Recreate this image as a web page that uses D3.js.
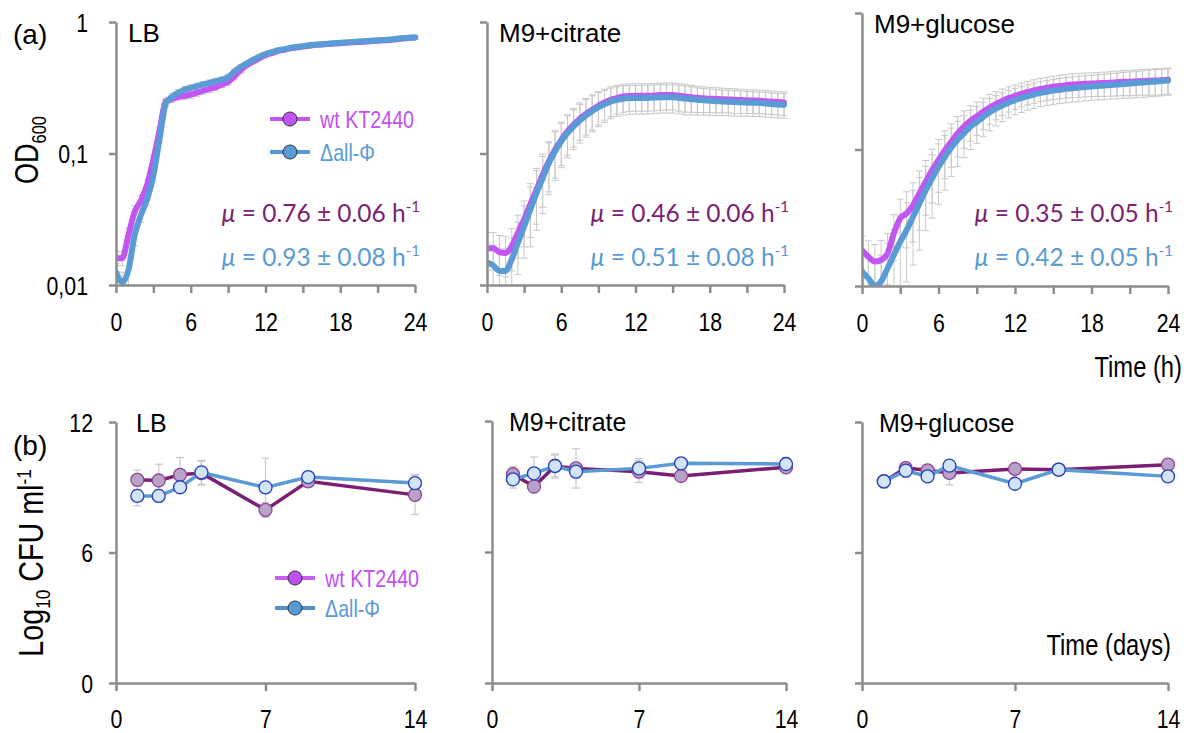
<!DOCTYPE html>
<html>
<head>
<meta charset="utf-8">
<script src="https://cdn.jsdelivr.net/npm/d3@7"></script>
<style>
  body { margin: 0; background: #fff; }
  svg { display: block; }
</style>
</head>
<body>
<div id="chart"></div>
<script>
// ---- data (a): OD600 growth curves, sampled every 0.5 h ----
const hours = [0, 0.5, 1, 1.5, 2, 2.5, 3, 3.5, 4, 4.5, 5, 5.5, 6, 6.5, 7, 7.5, 8, 8.5, 9, 9.5, 10, 10.5, 11, 11.5, 12,
  12.5, 13, 13.5, 14, 14.5, 15, 15.5, 16, 16.5, 17, 17.5, 18, 18.5, 19, 19.5, 20, 20.5, 21, 21.5, 22, 22.5, 23, 23.5, 24];

const lbWt = [0.016, 0.016, 0.024, 0.036, 0.044, 0.058, 0.09, 0.15, 0.25, 0.26, 0.27, 0.275, 0.28, 0.29, 0.30, 0.31, 0.32,
  0.335, 0.35, 0.385, 0.43, 0.47, 0.50, 0.53, 0.56, 0.58, 0.60, 0.615, 0.63, 0.64, 0.65, 0.66, 0.67, 0.675, 0.68, 0.685,
  0.69, 0.695, 0.70, 0.705, 0.71, 0.715, 0.72, 0.725, 0.73, 0.74, 0.75, 0.755, 0.76];
const lbDel = [0.0125, 0.0105, 0.013, 0.024, 0.034, 0.045, 0.068, 0.13, 0.24, 0.27, 0.29, 0.305, 0.315, 0.325, 0.335,
  0.345, 0.355, 0.365, 0.38, 0.42, 0.455, 0.485, 0.515, 0.545, 0.57, 0.59, 0.61, 0.62, 0.635, 0.645, 0.655, 0.665, 0.672,
  0.678, 0.684, 0.69, 0.695, 0.70, 0.705, 0.71, 0.715, 0.72, 0.725, 0.73, 0.735, 0.745, 0.752, 0.758, 0.764];
const lbSd = [0.002, 0.002, 0.003, 0.004, 0.004, 0.005, 0.006, 0.008, 0.012, 0.015, 0.016, 0.017, 0.018, 0.018, 0.018,
  0.018, 0.018, 0.018, 0.018, 0.018, 0.017, 0.016, 0.015, 0.014, 0.014, 0.014, 0.014, 0.014, 0.014, 0.014, 0.014, 0.014,
  0.014, 0.014, 0.014, 0.014, 0.014, 0.014, 0.014, 0.014, 0.014, 0.014, 0.014, 0.014, 0.014, 0.014, 0.014, 0.014, 0.014];

const citWt = [0.019, 0.019, 0.0178, 0.0175, 0.0198, 0.025, 0.0315, 0.041, 0.053, 0.069, 0.087, 0.107, 0.127, 0.147,
  0.166, 0.184, 0.20, 0.215, 0.23, 0.244, 0.256, 0.264, 0.271, 0.274, 0.275, 0.275, 0.275, 0.276, 0.278, 0.279, 0.279,
  0.275, 0.271, 0.268, 0.265, 0.263, 0.261, 0.26, 0.259, 0.258, 0.256, 0.255, 0.254, 0.253, 0.252, 0.25, 0.248, 0.246, 0.244];
const citDel = [0.0148, 0.0141, 0.0128, 0.0128, 0.0157, 0.021, 0.028, 0.0375, 0.050, 0.065, 0.0845, 0.104, 0.124, 0.143,
  0.161, 0.178, 0.195, 0.21, 0.225, 0.237, 0.249, 0.256, 0.261, 0.264, 0.264, 0.264, 0.265, 0.266, 0.268, 0.268, 0.268,
  0.265, 0.262, 0.259, 0.256, 0.254, 0.252, 0.25, 0.249, 0.248, 0.246, 0.245, 0.244, 0.243, 0.242, 0.24, 0.238, 0.236, 0.235];
const citSd = [0.006, 0.006, 0.006, 0.006, 0.007, 0.009, 0.012, 0.018, 0.024, 0.03, 0.036, 0.042, 0.046, 0.05, 0.054,
  0.058, 0.062, 0.064, 0.065, 0.065, 0.065, 0.065, 0.065, 0.065, 0.065, 0.065, 0.065, 0.065, 0.065, 0.065, 0.065, 0.065,
  0.065, 0.062, 0.06, 0.058, 0.057, 0.056, 0.055, 0.054, 0.054, 0.053, 0.052, 0.052, 0.051, 0.051, 0.05, 0.05, 0.05];

const gluWt = [0.0183, 0.0164, 0.0151, 0.0155, 0.0173, 0.0243, 0.0313, 0.034, 0.039, 0.0476, 0.058, 0.0706, 0.0836,
  0.099, 0.114, 0.131, 0.147, 0.162, 0.175, 0.189, 0.203, 0.215, 0.227, 0.238, 0.247, 0.256, 0.264, 0.271, 0.278, 0.283,
  0.288, 0.292, 0.296, 0.299, 0.301, 0.303, 0.304, 0.306, 0.307, 0.309, 0.311, 0.313, 0.314, 0.316, 0.318, 0.319, 0.32,
  0.322, 0.325];
const gluDel = [0.0127, 0.0114, 0.0100, 0.0108, 0.0135, 0.0169, 0.0211, 0.0257, 0.0322, 0.0403, 0.0504, 0.0614, 0.0747,
  0.0884, 0.1035, 0.118, 0.132, 0.147, 0.159, 0.173, 0.187, 0.199, 0.21, 0.22, 0.23, 0.238, 0.246, 0.253, 0.26, 0.265,
  0.27, 0.274, 0.278, 0.281, 0.284, 0.287, 0.289, 0.292, 0.294, 0.297, 0.299, 0.302, 0.304, 0.307, 0.309, 0.312, 0.315,
  0.317, 0.32];
const gluSd = [0.005, 0.005, 0.005, 0.006, 0.007, 0.009, 0.012, 0.015, 0.018, 0.022, 0.025, 0.03, 0.035, 0.038, 0.04,
  0.043, 0.045, 0.047, 0.048, 0.049, 0.05, 0.05, 0.05, 0.05, 0.05, 0.051, 0.052, 0.053, 0.054, 0.055, 0.056, 0.057, 0.058,
  0.059, 0.06, 0.06, 0.06, 0.061, 0.062, 0.063, 0.064, 0.065, 0.066, 0.067, 0.068, 0.069, 0.07, 0.07, 0.07];

const muWt = ["0.76 ± 0.06", "0.46 ± 0.06", "0.35 ± 0.05"];
const muDel = ["0.93 ± 0.08", "0.51 ± 0.08", "0.42 ± 0.05"];

// ---- data (b): viable counts, log10 CFU/ml ----
const days = [1, 2, 3, 4, 7, 9, 14];
const cfuLbWt = [9.34, 9.31, 9.57, 9.65, 7.96, 9.27, 8.65];
const cfuLbWtErr = [0.45, 0.75, 0.8, 0.55, 0.35, 0.2, 0.9];
const cfuLbDel = [8.6, 8.6, 9.0, 9.68, 8.99, 9.47, 9.19];
const cfuLbDelErr = [0.45, 0.3, 0.3, 0.55, 1.35, 0.2, 0.4];
const cfuCitWt = [9.56, 9.0, 9.94, 9.83, 9.68, 9.48, 9.88];
const cfuCitWtErr = [0.35, 0.3, 0.5, 0.9, 0.5, 0.2, 0.3];
const cfuCitDel = [9.33, 9.6, 9.94, 9.68, 9.83, 10.06, 10.03];
const cfuCitDelErr = [0.4, 0.75, 0.55, 0.3, 0.45, 0.2, 0.3];
const cfuGluWt = [9.27, 9.88, 9.78, 9.66, 9.84, 9.81, 10.04];
const cfuGluWtErr = [0.3, 0.25, 0.2, 0.55, 0.15, 0.15, 0.2];
const cfuGluDel = [9.27, 9.76, 9.5, 9.99, 9.16, 9.81, 9.5];
const cfuGluDelErr = [0.3, 0.3, 0.2, 0.2, 0.2, 0.15, 0.2];

const media = ["LB", "M9+citrate", "M9+glucose"];
const odTicks = [0.01, 0.1, 1];
const odTickLabels = ["0,01", "0,1", "1"];
const hourTicks = [0, 3, 6, 9, 12, 15, 18, 21, 24];
const dayTicks = [0, 7, 14];
const cfuTicks = [0, 6, 12];
const strains = ["wt KT2440", "\u0394all-\u03A6"];

const growth = [
  { wt: lbWt, del: lbDel, sd: lbSd },
  { wt: citWt, del: citDel, sd: citSd },
  { wt: gluWt, del: gluDel, sd: gluSd }
];
const counts = [
  { wt: cfuLbWt, wtErr: cfuLbWtErr, del: cfuLbDel, delErr: cfuLbDelErr },
  { wt: cfuCitWt, wtErr: cfuCitWtErr, del: cfuCitDel, delErr: cfuCitDelErr },
  { wt: cfuGluWt, wtErr: cfuGluWtErr, del: cfuGluDel, delErr: cfuGluDelErr }
];

// ---- layout ----
// no narrow face installed: squeeze Liberation Sans horizontally instead
const SQ = 0.82;
const sans = "'Liberation Sans', Arial, sans-serif";
const calib = "Lato, 'Open Sans', sans-serif";
const axisColor = "#8c8c8c";
const wtBright = "#c156f2", delBlue = "#5b9bd5", wtDark = "#7a1f72";

const topPanels = [
  { x0: 116, x1: 415, yTop: 22, yBot: 285 },
  { x0: 487, x1: 784, yTop: 22, yBot: 285 },
  { x0: 862, x1: 1168, yTop: 13, yBot: 286 }
];
const botPanels = [
  { x0: 116, x1: 415, yTop: 422, yBot: 683 },
  { x0: 492, x1: 786, yTop: 421, yBot: 683 },
  { x0: 862, x1: 1168, yTop: 422, yBot: 683 }
];

const svg = d3.select("#chart").append("svg")
  .attr("width", 1191).attr("height", 733);

function styleAxis(g, fontSize) {
  g.select(".domain").attr("stroke", axisColor).attr("stroke-width", 2.5);
  g.selectAll(".tick line").attr("stroke", axisColor).attr("stroke-width", 2.5);
  g.selectAll(".tick text").attr("fill", "#000")
    .style("font-family", sans).style("font-size", fontSize + "px")
    .each(function () {
      const t = d3.select(this);
      t.attr("x", (+t.attr("x") || 0) / SQ).attr("transform", `scale(${SQ},1)`);
    });
}

function narrowText(x, y, size, anchor, str) {
  return svg.append("text").attr("transform", `translate(${x},${y}) scale(${SQ},1)`)
    .attr("text-anchor", anchor).style("font-family", sans).style("font-size", size + "px").text(str);
}

function muLabel(x, y, color, value) {
  const t = svg.append("text").attr("x", x).attr("y", y).attr("text-anchor", "end")
    .attr("fill", color).style("font-family", calib).style("font-size", "24.5px");
  t.append("tspan").style("font-style", "italic").text("\u03BC");
  t.append("tspan").text(" = " + value + " h");
  t.append("tspan").attr("dy", -10).style("font-size", "15px").text("-1");
}

function drawGrowth(p, i) {
  const x = d3.scaleLinear().domain([0, 24]).range([p.x0, p.x1]);
  const y = d3.scaleLog().domain([0.01, 1]).range([p.yBot, p.yTop]);
  const d = growth[i];

  const clipId = "clipTop" + i;
  svg.append("clipPath").attr("id", clipId).append("rect")
    .attr("x", p.x0).attr("y", p.yTop - 8)
    .attr("width", p.x1 - p.x0 + 10).attr("height", p.yBot - p.yTop + 8);
  const plot = svg.append("g").attr("clip-path", `url(#${clipId})`);

  // error bars (gray, behind the curves)
  [d.wt, d.del].forEach(vals => {
    const rows = hours.map((t, k) => ({ t: t, hi: vals[k] + d.sd[k], lo: Math.max(vals[k] - d.sd[k], 0.005) }));
    const eb = plot.append("g").attr("stroke", "#c8c8c8").attr("stroke-width", 1);
    eb.selectAll(".v").data(rows).join("line")
      .attr("x1", r => x(r.t)).attr("x2", r => x(r.t))
      .attr("y1", r => y(r.lo)).attr("y2", r => y(r.hi));
    eb.selectAll(".ch").data(rows).join("line")
      .attr("x1", r => x(r.t) - 3.5).attr("x2", r => x(r.t) + 3.5)
      .attr("y1", r => y(r.hi)).attr("y2", r => y(r.hi));
    eb.selectAll(".cl").data(rows).join("line")
      .attr("x1", r => x(r.t) - 3.5).attr("x2", r => x(r.t) + 3.5)
      .attr("y1", r => y(r.lo)).attr("y2", r => y(r.lo));
  });

  const line = d3.line().x((v, k) => x(hours[k])).y(v => y(v)).curve(d3.curveMonotoneX);
  plot.append("path").datum(d.wt).attr("d", line)
    .attr("fill", "none").attr("stroke", wtBright).attr("stroke-width", 6).attr("stroke-linecap", "round");
  plot.append("path").datum(d.del).attr("d", line)
    .attr("fill", "none").attr("stroke", delBlue).attr("stroke-width", 6).attr("stroke-linecap", "round");

  const gx = svg.append("g").attr("transform", `translate(0,${p.yBot})`)
    .call(d3.axisBottom(x).tickValues(hourTicks).tickSize(8).tickSizeOuter(0).tickPadding(20)
      .tickFormat(v => v % 6 === 0 ? v : ""));
  styleAxis(gx, 26);
  const gy = svg.append("g").attr("transform", `translate(${p.x0},0)`)
    .call(d3.axisLeft(y).tickValues(odTicks).tickSize(7).tickSizeOuter(0).tickPadding(21)
      .tickFormat((v, k) => i === 0 ? odTickLabels[k] : ""));
  styleAxis(gy, 26);
  gy.selectAll(".tick text").attr("dy", "0.36em");

  svg.append("text").attr("x", p.x0 + 12).attr("y", p.yTop + 20)
    .style("font-family", sans).style("font-size", "26px").text(media[i]);

  muLabel(p.x1 + 5, 222, "#7b2272", muWt[i]);
  muLabel(p.x1 + 5, 266, delBlue, muDel[i]);
}

function drawCounts(p, i) {
  const x = d3.scaleLinear().domain([0, 14]).range([p.x0, p.x1]);
  const y = d3.scaleLinear().domain([0, 12]).range([p.yBot, p.yTop]);
  const d = counts[i];

  const series = [
    { vals: d.wt, err: d.wtErr, line: wtDark, fill: "#b9a2c8", stroke: "#93439a" },
    { vals: d.del, err: d.delErr, line: delBlue, fill: "#d3e4f8", stroke: "#1f3fc0" }
  ];
  series.forEach(s => {
    const eb = svg.append("g").attr("stroke", "#c8c8c8").attr("stroke-width", 1.2);
    eb.selectAll(".v").data(days).join("line")
      .attr("x1", v => x(v)).attr("x2", v => x(v))
      .attr("y1", (v, k) => y(s.vals[k] - s.err[k])).attr("y2", (v, k) => y(s.vals[k] + s.err[k]));
    [-1, 1].forEach(sg => {
      eb.append("g").selectAll("line").data(days).join("line")
        .attr("x1", v => x(v) - 4).attr("x2", v => x(v) + 4)
        .attr("y1", (v, k) => y(s.vals[k] + sg * s.err[k])).attr("y2", (v, k) => y(s.vals[k] + sg * s.err[k]));
    });
  });
  series.forEach(s => {
    const line = d3.line().x((v, k) => x(days[k])).y(v => y(v));
    svg.append("path").datum(s.vals).attr("d", line)
      .attr("fill", "none").attr("stroke", s.line).attr("stroke-width", 3.5);
    svg.append("g").selectAll("circle").data(s.vals).join("circle")
      .attr("cx", (v, k) => x(days[k])).attr("cy", v => y(v)).attr("r", 6.5)
      .attr("fill", s.fill).attr("stroke", s.stroke).attr("stroke-width", 1.3);
  });

  const gx = svg.append("g").attr("transform", `translate(0,${p.yBot})`)
    .call(d3.axisBottom(x).tickValues(dayTicks).tickSize(8).tickSizeOuter(0).tickPadding(19));
  styleAxis(gx, 26);
  const gy = svg.append("g").attr("transform", `translate(${p.x0},0)`)
    .call(d3.axisLeft(y).tickValues(cfuTicks).tickSize(7).tickSizeOuter(0).tickPadding(16)
      .tickFormat(v => i === 0 ? v : ""));
  styleAxis(gy, 26);
  gy.selectAll(".tick text").attr("dy", "0.36em");

  svg.append("text").attr("x", p.x0 + 20 - (i === 0 ? 0 : 3)).attr("y", p.yTop + 10)
    .style("font-family", sans).style("font-size", "25px").text(media[i]);
}

topPanels.forEach(drawGrowth);
botPanels.forEach(drawCounts);

// legends
function legend(x, y0, gap, colors, fontSize) {
  strains.forEach((name, k) => {
    const yy = y0 + k * gap;
    svg.append("line").attr("x1", x).attr("x2", x + 40).attr("y1", yy).attr("y2", yy)
      .attr("stroke", colors[k].line).attr("stroke-width", 4);
    svg.append("circle").attr("cx", x + 20).attr("cy", yy).attr("r", 7)
      .attr("fill", colors[k].fill).attr("stroke", "#333").attr("stroke-width", 1);
    narrowText(x + 50, yy, fontSize, "start", name)
      .attr("dy", "0.36em").attr("fill", colors[k].text);
  });
}
legend(270, 119, 33, [
  { line: wtBright, fill: wtBright, text: "#c050f0" },
  { line: delBlue, fill: delBlue, text: "#5b9bd5" }
], 24);
legend(275, 578, 30, [
  { line: "#c45ff0", fill: "#c050f0", text: "#c050f0" },
  { line: "#5b8fc8", fill: "#5b9bd5", text: "#5b9bd5" }
], 24);

// labels
svg.append("text").attr("x", 13).attr("y", 44)
  .style("font-family", sans).style("font-size", "28px").text("(a)");
svg.append("text").attr("x", 13).attr("y", 455)
  .style("font-family", sans).style("font-size", "28px").text("(b)");

const odLabel = svg.append("text").attr("transform", `translate(38,150) rotate(-90) scale(${SQ},1)`)
  .attr("text-anchor", "middle").style("font-family", sans).style("font-size", "33px");
odLabel.append("tspan").text("OD");
odLabel.append("tspan").attr("dy", 8).style("font-size", "20px").text("600");

const cfuLabel = svg.append("text").attr("transform", `translate(43,563) rotate(-90) scale(${SQ},1)`)
  .attr("text-anchor", "middle").style("font-family", sans).style("font-size", "35px");
cfuLabel.append("tspan").text("Log");
cfuLabel.append("tspan").attr("dy", 7).style("font-size", "21px").text("10");
cfuLabel.append("tspan").attr("dy", -7).text(" CFU ml");
cfuLabel.append("tspan").attr("dy", -12).style("font-size", "21px").text("-1");

narrowText(1182, 377, 29, "end", "Time (h)");
narrowText(1171, 655, 29, "end", "Time (days)");
</script>
</body>
</html>
